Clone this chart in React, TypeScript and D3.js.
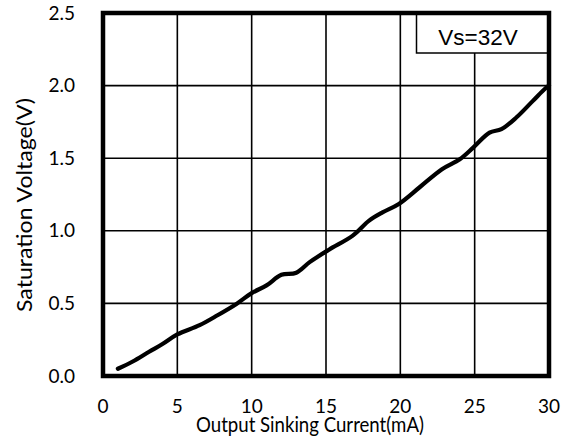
// Saturation voltage vs output sinking current
import React from 'react';
import * as d3 from 'd3';

const currentMA = [1, 2, 3.1, 4, 5, 6.5, 7.7, 9, 10, 11, 12, 13, 13.9, 15.2, 16.8, 17.9, 18.8, 19.9, 21.3, 22.8, 24, 24.9, 26, 26.8, 27.8, 28.9, 29.8, 30];
const satVolt = [0.05, 0.1, 0.167, 0.22, 0.286, 0.35, 0.418, 0.498, 0.571, 0.624, 0.697, 0.711, 0.784, 0.87, 0.967, 1.07, 1.127, 1.185, 1.3, 1.424, 1.493, 1.573, 1.676, 1.70, 1.78, 1.893, 1.985, 2.0];
const xTicks = [0, 5, 10, 15, 20, 25, 30];
const yTicks = [0, 0.5, 1.0, 1.5, 2.0, 2.5];
const legendLabel = 'Vs=32V';

const W = 571;
const H = 440;
const margin = { top: 13, right: 22, bottom: 64, left: 103 };

export default function App() {
  const x = d3.scaleLinear().domain([0, 30]).range([margin.left, W - margin.right]);
  const y = d3.scaleLinear().domain([0, 2.5]).range([H - margin.bottom, margin.top]);

  const line = d3.line<number>()
    .x((_, i) => x(currentMA[i]))
    .y(d => y(d))
    .curve(d3.curveCatmullRom.alpha(0.5));

  const font = 'Lato, "Open Sans", sans-serif';
  const x0 = x(0), x1 = x(30), y0 = y(0), y1 = y(2.5);

  return (
    <svg width={W} height={H} style={{ position: 'absolute', left: 0, top: 0, background: '#fff' }}>
      {/* grid */}
      {xTicks.slice(1, -1).map(t => (
        <line key={'gx' + t} x1={x(t)} x2={x(t)} y1={y1} y2={y0} stroke="#000" strokeWidth={1.6} />
      ))}
      {yTicks.slice(1, -1).map(t => (
        <line key={'gy' + t} x1={x0} x2={x1} y1={y(t)} y2={y(t)} stroke="#000" strokeWidth={1.6} />
      ))}

      {/* legend box */}
      <rect x={416.5} y={y1} width={x1 - 416.5} height={40} fill="#fff" stroke="#000" strokeWidth={1.5} />
      <text x={478} y={45} textAnchor="middle" fontFamily='"Liberation Sans", Arial, sans-serif' fontSize={22.5}>{legendLabel}</text>

      {/* curve */}
      <path d={line(satVolt) || ''} fill="none" stroke="#000" strokeWidth={4.2} strokeLinecap="round" strokeLinejoin="round" />

      {/* frame */}
      <rect x={x0} y={y1} width={x1 - x0} height={y0 - y1} fill="none" stroke="#000" strokeWidth={4.5} />

      {/* tick labels */}
      {xTicks.map(t => (
        <text key={'tx' + t} x={x(t)} y={413} textAnchor="middle" fontFamily={font} fontSize={19}>{t}</text>
      ))}
      {yTicks.map(t => (
        <text key={'ty' + t} x={75} y={y(t)} dy="0.35em" textAnchor="end" fontFamily={font} fontSize={19}>{d3.format('.1f')(t)}</text>
      ))}

      {/* axis titles */}
      <text x={310} y={432} textAnchor="middle" fontFamily={font} fontSize={21} textLength={228} lengthAdjust="spacingAndGlyphs">Output Sinking Current(mA)</text>
      <text transform="translate(32,205) rotate(-90)" textAnchor="middle" fontFamily={font} fontSize={22} textLength={214} lengthAdjust="spacingAndGlyphs">Saturation Voltage(V)</text>
    </svg>
  );
}
